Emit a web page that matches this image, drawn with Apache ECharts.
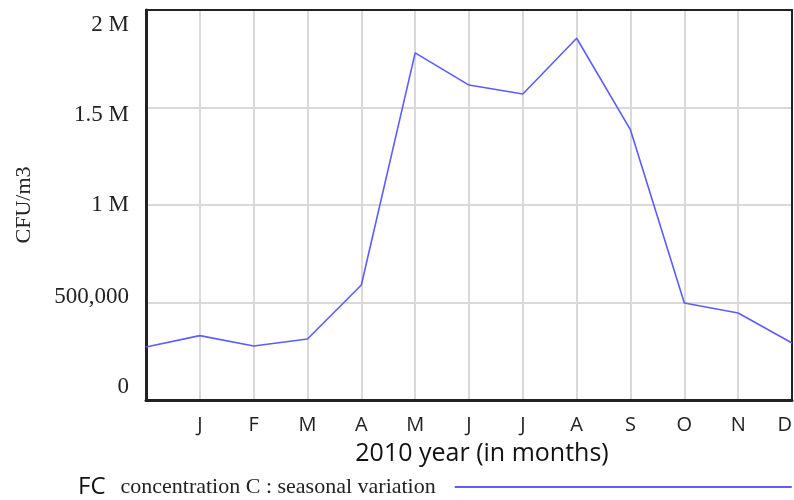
<!DOCTYPE html>
<html>
<head>
<meta charset="utf-8">
<script src="https://cdn.jsdelivr.net/npm/echarts@6/dist/echarts.min.js"></script>
<style>
  html, body { margin: 0; padding: 0; background: #fff; }
  #chart { width: 794px; height: 500px; }
</style>
</head>
<body>
<div id="chart"></div>
<script>
// Month positions: the first slot is the start of the year (no label)
const months = ['', 'J', 'F', 'M', 'A', 'M', 'J', 'J', 'A', 'S', 'O', 'N', 'D'];
// FC concentration C, seasonal variation (CFU/m3)
const concentration = [272000, 330000, 277000, 313000, 590000, 1780000, 1615000, 1569000, 1855000, 1385000, 497000, 446000, 292000];
// Y tick values and their printed text
const yTickValues = [0, 500000, 1000000, 1500000, 2000000];
const yTickTexts = ['0', '500,000', '1 M', '1.5 M', '2 M'];
const seriesName = 'FC concentration C : seasonal variation';

// The tick texts sit on a slightly tighter spacing than the grid lines:
// each one gets its own vertical nudge (px, positive = down).
const yNudge = [-13, -5.5, 0, 7.5, 14.5];
const yRich = {};
yNudge.forEach((d, i) => {
  yRich['t' + i] = {
    fontFamily: 'Liberation Serif', fontSize: 23, color: '#222',
    padding: d >= 0 ? [2 * d, 0, 0, 0] : [0, 0, -2 * d, 0]
  };
});

const chart = echarts.init(document.getElementById('chart'));
chart.setOption({
  animation: false,
  grid: {
    left: 146, right: 2, top: 10, bottom: 100,
    outerBoundsMode: 'none',
    containLabel: false
  },
  xAxis: [{
    type: 'category',
    data: months,
    boundaryGap: false,
    name: '2010 year (in months)',
    nameLocation: 'middle',
    nameGap: 41,
    nameTextStyle: { fontFamily: 'Open Sans', fontSize: 25, color: '#111', padding: [0, 0, 0, 26] },
    axisLine: { show: true, onZero: false, lineStyle: { color: '#222', width: 3 } },
    axisTick: { show: false },
    axisLabel: {
      fontFamily: 'Open Sans', fontSize: 20, color: '#222', margin: 15, interval: 0,
      alignMaxLabel: 'right'
    },
    splitLine: { show: true, lineStyle: { color: '#d9d9d9', width: 2 } }
  }, {
    type: 'category',
    data: months,
    boundaryGap: false,
    position: 'top',
    axisLine: { show: true, onZero: false, lineStyle: { color: '#222', width: 2 } },
    axisTick: { show: false },
    axisLabel: { show: false },
    splitLine: { show: false }
  }],
  yAxis: [{
    type: 'value',
    min: 0, max: 2000000, interval: 500000,
    name: 'CFU/m3',
    nameLocation: 'middle',
    nameGap: 111,
    nameTextStyle: { fontFamily: 'Liberation Serif', fontSize: 22, color: '#222' },
    axisLine: { show: true, onZero: false, lineStyle: { color: '#222', width: 3 } },
    axisTick: { show: false },
    axisLabel: {
      margin: 17,
      formatter: v => {
        const i = yTickValues.indexOf(v);
        return i < 0 ? '' : '{t' + i + '|' + yTickTexts[i] + '}';
      },
      rich: yRich
    },
    splitLine: { show: true, lineStyle: { color: '#d9d9d9', width: 2 } }
  }, {
    type: 'value',
    min: 0, max: 2000000, interval: 500000,
    position: 'right',
    axisLine: { show: true, onZero: false, lineStyle: { color: '#222', width: 2 } },
    axisTick: { show: false },
    axisLabel: { show: false },
    splitLine: { show: false }
  }],
  legend: {
    left: 73, bottom: -4,
    align: 'right',
    icon: 'rect',
    itemWidth: 337, itemHeight: 2,
    data: [seriesName],
    formatter: () => '{a|FC}{b|concentration C : seasonal variation}',
    textStyle: {
      rich: {
        a: { fontFamily: 'Open Sans', fontSize: 24, color: '#111', padding: [0, 15, 0, 0] },
        b: { fontFamily: 'Liberation Serif', fontSize: 22, color: '#222', padding: [0, 14, 0, 0] }
      }
    }
  },
  series: [{
    name: seriesName,
    type: 'line',
    xAxisIndex: 0,
    yAxisIndex: 0,
    data: concentration,
    symbol: 'none',
    lineStyle: { color: '#5c5cff', width: 1.6 },
    itemStyle: { color: '#5c5cff' }
  }]
});
</script>
</body>
</html>
